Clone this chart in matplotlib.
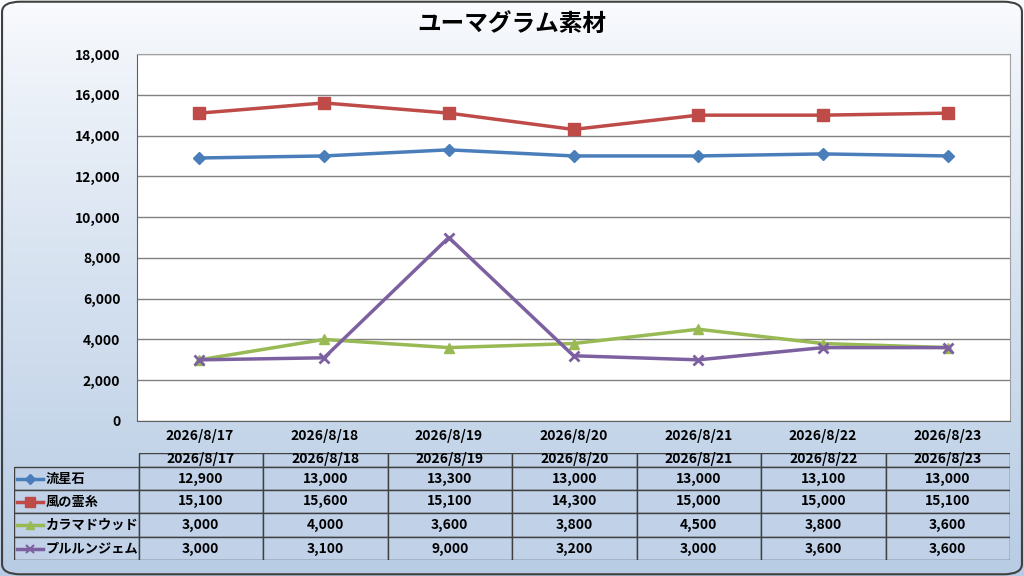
import numpy as np
import matplotlib
matplotlib.use('Agg')
import matplotlib.pyplot as plt
from matplotlib.patches import FancyBboxPatch, Rectangle
from matplotlib.lines import Line2D

plt.rcParams['font.family'] = ['Noto Sans CJK JP', 'DejaVu Sans']

# データ
title = 'ユーマグラム素材'
dates = ['2026/8/17', '2026/8/18', '2026/8/19', '2026/8/20',
         '2026/8/21', '2026/8/22', '2026/8/23']
series_names = ['流星石', '風の霊糸', 'カラマドウッド', 'プルルンジェム']
ryuseiseki = [12900, 13000, 13300, 13000, 13000, 13100, 13000]
kaze_no_reishi = [15100, 15600, 15100, 14300, 15000, 15000, 15100]
karama_wood = [3000, 4000, 3600, 3800, 4500, 3800, 3600]
pururun_gem = [3000, 3100, 9000, 3200, 3000, 3600, 3600]
yticks = list(range(0, 18001, 2000))

values = [ryuseiseki, kaze_no_reishi, karama_wood, pururun_gem]
colors = ['#4a7ebb', '#be4b48', '#98b954', '#7d60a0']
markers = ['D', 's', '^', 'x']
msizes = [6, 8, 7, 7]

W, H = 1024, 576
fig = plt.figure(figsize=(W / 100, H / 100), dpi=100)


def px_axes(x0, y0, x1, y1, **kw):
    return fig.add_axes([x0 / W, 1 - y1 / H, (x1 - x0) / W, (y1 - y0) / H], **kw)


# 背景グラデーション
bg = fig.add_axes([0, 0, 1, 1], zorder=-10)
grad = np.linspace(0, 1, 256)[:, None]
top = np.array([0.98, 0.985, 0.995])
bot = np.array([0.72, 0.80, 0.895])
img = top + (bot - top) * grad[..., None] ** 0.85
bg.imshow(img, aspect='auto', extent=[0, 1, 0, 1], origin='upper')
bg.add_patch(FancyBboxPatch((0.002, 0.003), 0.996, 0.994,
                            boxstyle='round,pad=0,rounding_size=0.018',
                            transform=bg.transAxes, fill=False,
                            edgecolor='#404040', linewidth=1.5))
bg.set_xlim(0, 1)
bg.set_ylim(0, 1)
bg.axis('off')

fig.text(0.5, 1 - 24 / H, title, ha='center', va='center',
         fontsize=17, fontweight='bold', color='black')

fw = 'semibold'

# 折れ線グラフ
ax = px_axes(137, 54, 1010, 421)
ax.set_facecolor('white')
x = np.arange(len(dates))
for name, vals, c, m, ms in zip(series_names, values, colors, markers, msizes):
    mew = 2 if m == 'x' else 1
    ax.plot(x, vals, color=c, linewidth=2.5, marker=m, markersize=ms,
            markeredgewidth=mew, markeredgecolor=c, markerfacecolor=c,
            label=name, zorder=3)
ax.set_xlim(-0.5, len(dates) - 0.5)
ax.set_ylim(0, 18000)
ax.set_yticks(yticks)
ax.set_yticklabels([f'{v:,}' for v in yticks], fontsize=10, fontweight=fw)
ax.yaxis.grid(True, color='#808080', linewidth=1)
ax.set_axisbelow(True)
ax.set_xticks(x)
ax.set_xticklabels(dates, fontsize=10, fontweight=fw)
ax.tick_params(axis='both', length=0, pad=6)
ax.tick_params(axis='y', pad=12)
for s in ['left', 'bottom']:
    ax.spines[s].set_color('#606060')
for s in ['top', 'right']:
    ax.spines[s].set_color('#a0a0a0')

# データテーブル
tab = px_axes(14, 453, 1010, 560)
tab.set_xlim(-1.5, len(dates) - 0.5)
row_tops = [0, 14, 37, 60, 84, 107]  # px from table top
total = row_tops[-1]
tab.set_ylim(total, 0)
tab.axis('off')
cell_fc = '#c0d1e8'
edge = '#404040'
for r in range(len(row_tops) - 1):
    y0, y1 = row_tops[r], row_tops[r + 1]
    for cidx in range(-1, len(dates)):
        if r == 0 and cidx == -1:
            continue
        tab.add_patch(Rectangle((cidx - 0.5, y0), 1, y1 - y0,
                                facecolor=cell_fc, edgecolor=edge,
                                linewidth=1))
for i, d in enumerate(dates):
    tab.text(i, 6, d, ha='center', va='center', fontsize=10,
             fontweight=fw, color='black')
for r, (name, vals, c, m, ms) in enumerate(zip(series_names, values, colors,
                                                markers, msizes)):
    yc = (row_tops[r + 1] + row_tops[r + 2]) / 2
    tab.add_line(Line2D([-1.475, -1.265], [yc, yc], color=c, linewidth=2.5))
    mew = 1.5 if m == 'x' else 1
    tab.plot([-1.37], [yc], marker=m, markersize=ms - 1, color=c,
             markeredgewidth=mew)
    tab.text(-1.245, yc, name, ha='left', va='center', fontsize=9.5,
             fontweight=fw, color='black')
    for i, v in enumerate(vals):
        tab.text(i, yc, f'{v:,}', ha='center', va='center', fontsize=10,
                 fontweight=fw, color='black')

fig.savefig('out.png', dpi=100)
